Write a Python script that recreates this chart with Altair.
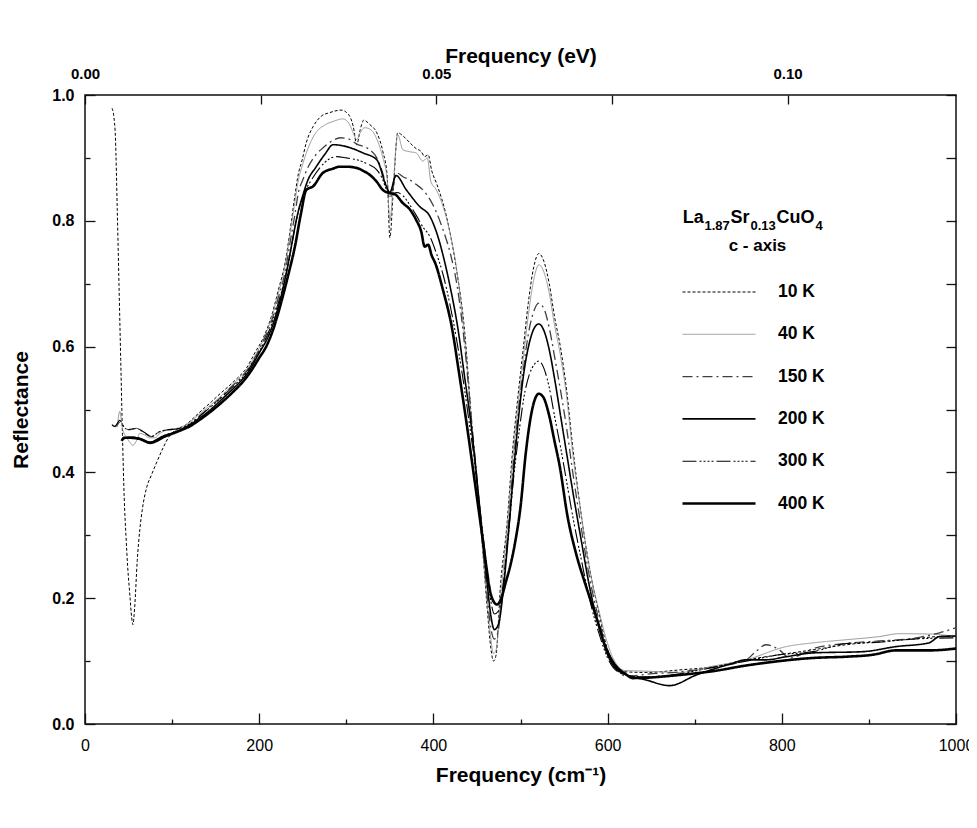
import altair as alt
import pandas as pd

FONT = "Liberation Sans"
CM_PER_EV = 8065.54

temps = ["10 K", "40 K", "150 K", "200 K", "300 K", "400 K"]
line_colors = ["#000000", "#8c8c8c", "#404040", "#000000", "#000000", "#000000"]
line_dashes = [[3, 2], [1, 0], [10, 4, 2, 4], [1, 0], [14, 3, 2, 2, 2, 2, 2, 2, 2, 3], [1, 0]]
line_widths = [1.0, 0.9, 1.3, 1.6, 1.1, 2.6]

# legend heading pieces: text, font size, x / baseline in plot pixels
formula_text = ["La", "1.87", "Sr", "0.13", "CuO", "4"]
formula_size = [18, 13, 18, 13, 18, 13]
formula_x = [597.7, 619.5, 645.5, 665.5, 691.5, 730.5]
formula_y = [127.7, 134.7, 127.7, 134.7, 127.7, 134.7]
axis_note = "c - axis"

# (frequency cm^-1, reflectance)
r10K = [(31,0.979),(33,0.967),(35,0.93),(37,0.82),(39,0.70),(41,0.58),(43,0.46),(45,0.36),(47,0.30),(49,0.25),
        (51.5,0.205),(53.5,0.17),(55,0.158),(57,0.185),(60,0.26),(63,0.31),(66,0.343),(71,0.377),(76,0.395),(82,0.415),
        (90,0.44),(97,0.458),(105,0.468),(115,0.475),(125,0.487),(135,0.50),(145,0.512),(155,0.525),(165,0.537),(175,0.55),
        (185,0.565),(195,0.59),(205,0.615),(214,0.648),(222,0.69),(230,0.735),(236,0.79),(241,0.84),(245,0.875),(249,0.895),
        (254,0.924),(262,0.95),(271,0.966),(281,0.972),(294,0.976),(302,0.97),(308,0.95),(312,0.921),(316,0.945),(320,0.96),
        (327,0.953),(335,0.94),(342,0.91),(347,0.871),(350,0.773),(354,0.849),(359,0.94),(365,0.935),(373,0.924),(380,0.915),
        (386,0.91),(390,0.902),(394,0.905),(398,0.88),(404,0.858),(415,0.807),(426,0.727),(436,0.622),(442,0.516),(446,0.441),
        (452,0.35),(457,0.27),(462,0.18),(466,0.12),(469,0.10),(472,0.11),(477,0.22),(484,0.31),(491,0.436),(497,0.52),
        (503,0.595),(509,0.67),(515,0.725),(521,0.748),(527,0.735),(533,0.70),(539,0.648),(546,0.598),(553,0.53),(560,0.44),
        (570,0.33),(579,0.25),(591,0.171),(599,0.123),(608,0.095),(620,0.083),(644,0.082),(683,0.086),(721,0.091),(759,0.102),
        (797,0.11),(836,0.118),(874,0.126),(912,0.131),(950,0.135),(981,0.139),(1000,0.139)]

r40K = [(37,0.472),(40,0.497),(43,0.47),(48,0.455),(52,0.447),(55,0.443),(59,0.45),(63,0.462),(68,0.46),(74,0.455),
        (80,0.455),(86,0.462),(95,0.468),(105,0.47),(115,0.475),(125,0.485),(135,0.497),(145,0.508),(155,0.52),(165,0.533),
        (175,0.547),(185,0.562),(195,0.585),(205,0.612),(214,0.645),(222,0.685),(230,0.73),(236,0.785),(241,0.83),(245,0.865),
        (250,0.89),(256,0.915),(265,0.94),(275,0.952),(285,0.958),(296,0.962),(303,0.955),(308,0.94),(312,0.929),(316,0.94),
        (321,0.948),(328,0.945),(335,0.93),(342,0.9),(347,0.865),(350,0.80),(354,0.86),(359,0.937),(365,0.913),(372,0.91),
        (380,0.908),(388,0.895),(393,0.9),(397,0.863),(403,0.85),(411,0.823),(420,0.775),(428,0.71),(436,0.61),(442,0.51),
        (446,0.44),(452,0.35),(457,0.27),(462,0.19),(466,0.135),(469,0.112),(472,0.118),(477,0.2),(484,0.3),(491,0.42),
        (497,0.505),(503,0.58),(509,0.65),(515,0.705),(521,0.73),(527,0.718),(533,0.685),(539,0.635),(546,0.585),(553,0.52),
        (560,0.43),(570,0.33),(579,0.25),(591,0.175),(600,0.128),(608,0.1),(620,0.085),(644,0.084),(683,0.082),(721,0.092),
        (759,0.102),(805,0.123),(836,0.129),(874,0.134),(912,0.139),(935,0.1436),(970,0.143),(1000,0.139)]

r150K = [(31,0.475),(35,0.473),(40,0.48),(43,0.475),(50,0.468),(59,0.47),(69,0.462),(76,0.457),(86,0.465),(96,0.468),
         (105,0.469),(115,0.472),(125,0.482),(135,0.494),(145,0.506),(155,0.518),(165,0.532),(175,0.545),(185,0.56),(195,0.582),
         (205,0.61),(214,0.64),(222,0.678),(230,0.72),(236,0.77),(241,0.81),(245,0.845),(250,0.865),(256,0.885),(265,0.905),
         (275,0.918),(285,0.928),(293,0.932),(303,0.93),(312,0.922),(320,0.918),(327,0.913),(335,0.9),(342,0.875),(347,0.85),
         (350,0.835),(354,0.855),(358,0.876),(365,0.87),(373,0.865),(380,0.858),(388,0.849),(396,0.834),(403,0.815),(411,0.786),
         (420,0.745),(428,0.69),(436,0.6),(442,0.51),(446,0.45),(452,0.36),(457,0.28),(462,0.2),(466,0.152),(470,0.135),
         (474,0.145),(478,0.19),(484,0.28),(491,0.40),(497,0.49),(503,0.56),(509,0.62),(515,0.655),(521,0.669),(527,0.66),
         (533,0.63),(539,0.585),(546,0.53),(553,0.47),(560,0.4),(570,0.31),(579,0.235),(591,0.16),(600,0.115),(610,0.088),
         (622,0.076),(644,0.079),(683,0.083),(721,0.09),(759,0.102),(770,0.115),(782,0.126),(797,0.118),(809,0.105),(836,0.12),
         (874,0.128),(912,0.132),(950,0.136),(981,0.145),(1000,0.153)]

r200K = [(42,0.452),(52,0.456),(63,0.454),(75,0.448),(82,0.452),(90,0.458),(101,0.463),(110,0.468),(120,0.475),(130,0.485),
         (140,0.495),(150,0.507),(160,0.52),(170,0.533),(180,0.547),(190,0.565),(200,0.59),(210,0.615),(218,0.645),(226,0.685),
         (233,0.73),(239,0.775),(244,0.81),(250,0.84),(256,0.865),(265,0.885),(275,0.905),(285,0.921),(300,0.918),(319,0.908),
         (335,0.897),(346,0.855),(350,0.845),(357,0.872),(369,0.849),(384,0.823),(396,0.807),(404,0.78),(412,0.74),(420,0.69),
         (428,0.63),(436,0.55),(442,0.49),(447,0.43),(452,0.36),(457,0.29),(462,0.22),(466,0.172),(470,0.15),(475,0.16),
         (480,0.21),(486,0.3),(492,0.40),(498,0.49),(504,0.56),(510,0.605),(516,0.63),(521,0.636),(527,0.625),(533,0.595),
         (539,0.55),(546,0.49),(553,0.43),(560,0.37),(570,0.29),(579,0.22),(591,0.15),(600,0.11),(612,0.085),(630,0.075),
         (644,0.07),(671,0.061),(702,0.078),(740,0.095),(759,0.102),(782,0.102),(805,0.107),(836,0.113),(893,0.115),(931,0.123),
         (969,0.129),(981,0.139),(1000,0.14)]

r300K = [(31,0.476),(34,0.473),(38,0.48),(40,0.483),(43,0.476),(49,0.468),(59,0.47),(69,0.463),(76,0.457),(86,0.465),
         (96,0.468),(105,0.469),(115,0.473),(125,0.482),(135,0.493),(145,0.505),(155,0.517),(165,0.53),(175,0.543),(185,0.558),
         (195,0.58),(205,0.605),(214,0.635),(222,0.67),(230,0.71),(236,0.75),(241,0.79),(246,0.82),(252,0.845),(260,0.865),
         (270,0.885),(280,0.898),(289,0.902),(300,0.9),(312,0.897),(325,0.89),(335,0.881),(342,0.865),(346,0.85),(352,0.843),
         (358,0.845),(365,0.84),(373,0.825),(381,0.807),(388,0.79),(396,0.775),(403,0.75),(411,0.715),(420,0.66),(428,0.6),
         (436,0.53),(442,0.47),(447,0.42),(452,0.36),(457,0.3),(462,0.24),(466,0.195),(470,0.175),(475,0.18),(480,0.22),
         (486,0.3),(492,0.39),(498,0.46),(504,0.52),(510,0.555),(516,0.572),(521,0.577),(527,0.565),(533,0.535),(539,0.49),
         (546,0.44),(553,0.385),(560,0.33),(570,0.26),(579,0.2),(591,0.14),(600,0.105),(612,0.083),(630,0.076),(644,0.075),
         (683,0.08),(721,0.09),(759,0.1),(797,0.11),(836,0.115),(874,0.128),(912,0.13),(950,0.135),(1000,0.137)]

r400K = [(42,0.45),(45,0.455),(52,0.455),(63,0.453),(75,0.447),(82,0.45),(90,0.456),(101,0.462),(110,0.467),(120,0.473),
         (130,0.482),(140,0.492),(150,0.503),(160,0.515),(170,0.528),(180,0.542),(190,0.56),(200,0.582),(208,0.6),(216,0.627),
         (224,0.664),(233,0.712),(241,0.759),(248,0.812),(254,0.849),(262,0.855),(273,0.876),(285,0.883),(292,0.886),(300,0.886),
         (312,0.884),(320,0.879),(327,0.873),(335,0.862),(342,0.849),(350,0.844),(356,0.842),(365,0.828),(373,0.818),(380,0.802),
         (386,0.783),(390,0.759),(394,0.762),(398,0.745),(402,0.733),(411,0.69),(421,0.632),(430,0.553),(438,0.479),(445,0.41),
         (451,0.35),(456,0.30),(461,0.248),(465,0.212),(469,0.195),(473,0.19),(478,0.2),(483,0.225),(488,0.25),(494,0.29),
         (500,0.345),(506,0.43),(512,0.49),(517,0.518),(521,0.525),(526,0.52),(533,0.49),(539,0.45),(545,0.41),(554,0.33),
         (564,0.27),(575,0.22),(587,0.17),(597,0.125),(608,0.095),(620,0.08),(629,0.073),(683,0.078),(721,0.084),(759,0.093),
         (797,0.1),(836,0.105),(874,0.107),(904,0.11),(931,0.117),(969,0.117),(1000,0.12)]

series = [r10K, r40K, r150K, r200K, r300K, r400K]

rows = []
for t, s in zip(temps, series):
    for f, r in s:
        rows.append({"freq": f, "R": r, "T": t})
df = pd.DataFrame(rows)

# One shared discrete domain for colour / dash / width, laid out on a 0.1 px width grid so that
# the (evenly spaced) point scale used for stroke width hits each series' width exactly.
W_STEP = 0.1
w_min, w_max = min(line_widths), max(line_widths)
n_slots = int(round((w_max - w_min) / W_STEP)) + 1
slot_name = ["\u00b7" * (i + 1) for i in range(n_slots)]
slot_color = ["#000000"] * n_slots
slot_dash = [[1, 0]] * n_slots
for t, c, d, w in zip(temps, line_colors, line_dashes, line_widths):
    k = int(round((w - w_min) / W_STEP))
    slot_name[k], slot_color[k], slot_dash[k] = t, c, d

legend_kw = dict(
    orient="none", legendX=596, legendY=187, padding=0, title=None, values=temps,
    labelFont=FONT, labelFontSize=17.5, labelFontWeight="bold", labelColor="black",
    labelOffset=21, symbolType="stroke", symbolSize=5329, clipHeight=20, rowPadding=22.3,
)

x_axis = alt.Axis(
    orient="bottom", values=list(range(0, 1001, 100)),
    labelExpr="datum.value % 200 == 0 ? format(datum.value, 'd') : ''",
    tickSize={"expr": "datum.value % 200 == 0 ? -11 : -5"},
    labelPadding=24, labelFontSize=16, labelFontWeight="normal", labelFlush=False, labelOverlap=False,
    title="Frequency  (cm\u207b\u00b9)", titleFontSize=21, titleFontWeight="bold", titlePadding=5,
)
y_axis = alt.Axis(
    orient="left", values=[i / 10 for i in range(11)],
    labelExpr="round(datum.value*10) % 2 == 0 ? format(datum.value, '.1f') : ''",
    tickSize={"expr": "round(datum.value*10) % 2 == 0 ? -10 : -5"},
    labelPadding=21, labelFontSize=16, labelFontWeight="bold", labelFlush=False, labelOverlap=False,
    title="Reflectance", titleFontSize=21, titleFontWeight="bold", titlePadding=20,
)

lines = alt.Chart(df).mark_line(interpolate="monotone", clip=True).encode(
    x=alt.X("freq:Q", scale=alt.Scale(domain=[0, 1000], nice=False, zero=False), axis=x_axis),
    y=alt.Y("R:Q", scale=alt.Scale(domain=[0, 1], nice=False), axis=y_axis),
    color=alt.Color("T:O", scale=alt.Scale(domain=slot_name, range=slot_color), legend=alt.Legend(**legend_kw)),
    strokeDash=alt.StrokeDash("T:O", scale=alt.Scale(domain=slot_name, range=slot_dash), legend=alt.Legend(**legend_kw)),
    strokeWidth=alt.StrokeWidth("T:O", scale=alt.Scale(type="point", domain=slot_name, range=[w_min, w_max], padding=0),
                                legend=alt.Legend(**legend_kw)),
)

ev_layer = alt.Chart(df).transform_calculate(eV=f"datum.freq / {CM_PER_EV}").mark_line(strokeOpacity=0).encode(
    x=alt.X("eV:Q", scale=alt.Scale(domain=[0, 1000 / CM_PER_EV], nice=False, zero=False),
            axis=alt.Axis(orient="top", values=[0, 0.025, 0.05, 0.075, 0.1],
                          labelExpr="round(datum.value*1000) % 50 == 0 ? format(datum.value, '.2f') : ''",
                          tickSize={"expr": "-9"}, labelPadding=23, labelFontSize=15, labelFontWeight="bold",
                          labelFlush=False, labelOverlap=False,
                          title="Frequency (eV)", titleFontSize=21, titleFontWeight="bold", titlePadding=0)),
    y=alt.Y("R:Q", scale=alt.Scale(domain=[0, 1], nice=False),
            axis=alt.Axis(orient="right", values=[i / 10 for i in range(11)], labels=False,
                          tickSize={"expr": "-10"}, title=None)),
    detail="T:N",
)

label_layers = []
for txt, fs, px, py in zip(formula_text, formula_size, formula_x, formula_y):
    label_layers.append(
        alt.Chart(alt.Data(values=[{"t": txt}])).mark_text(
            font=FONT, fontSize=fs, fontWeight="bold", align="left", baseline="alphabetic", color="black"
        ).encode(text="t:N", x=alt.value(px), y=alt.value(py))
    )
label_layers.append(
    alt.Chart(alt.Data(values=[{"t": axis_note}])).mark_text(
        font=FONT, fontSize=17, fontWeight="bold", align="center", baseline="alphabetic", color="black"
    ).encode(text="t:N", x=alt.value(672.5), y=alt.value(156.4))
)

chart = alt.layer(lines, ev_layer, *label_layers).resolve_scale(x="independent").resolve_axis(
    x="independent", y="independent"
).properties(
    width=871, height=629,
    autosize=alt.AutoSizeParams(type="none"),
    padding={"left": 77, "top": 87, "right": 13, "bottom": 95},
    background="white",
).configure_view(stroke="#111111", strokeWidth=1.5).configure_axis(
    domain=False, grid=False, tickColor="#111111", tickWidth=1.3,
    labelColor="black", titleColor="black", labelFont=FONT, titleFont=FONT,
).configure_legend(labelFont=FONT, titleFont=FONT)

chart.save("out.html", embed_options={"renderer": "svg", "actions": False})
